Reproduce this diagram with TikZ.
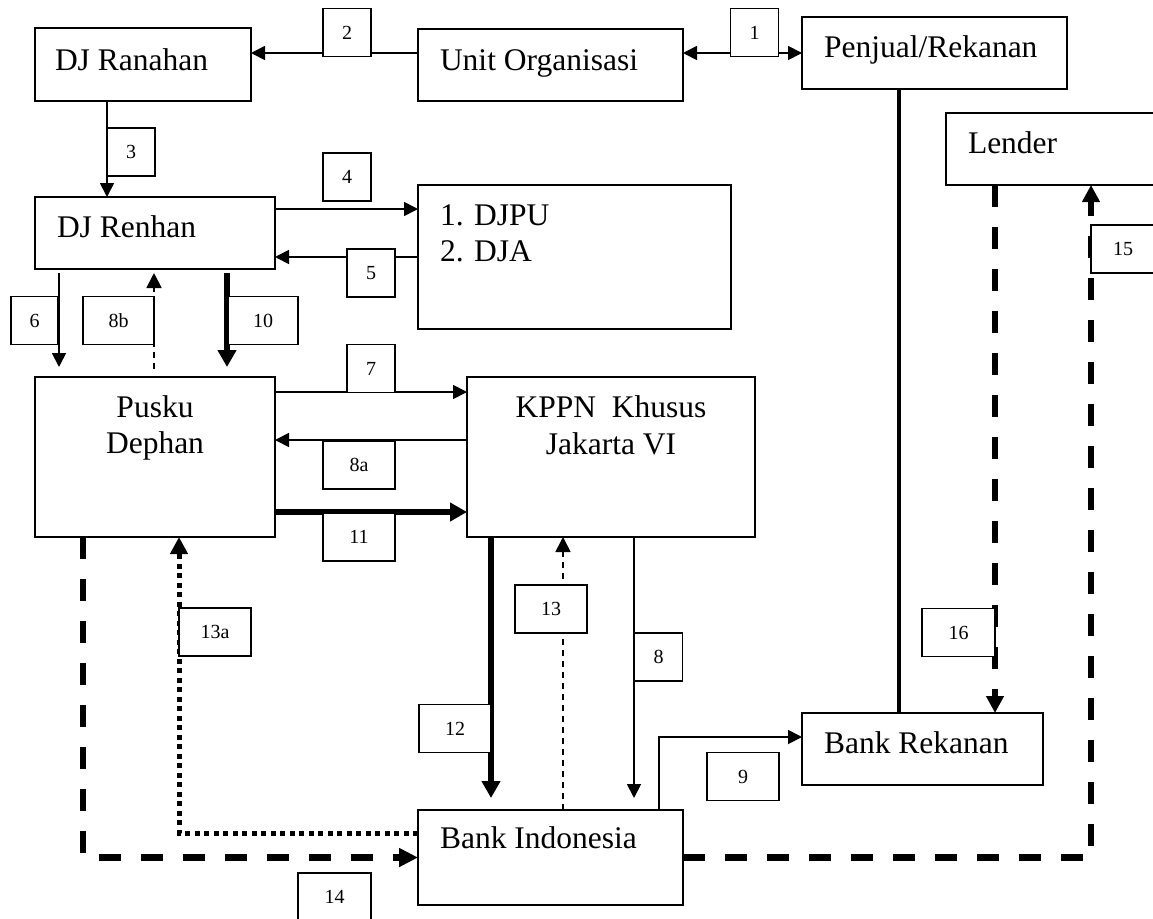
\documentclass[tikz,border=0pt]{standalone}
\usepackage{fontspec}
\setmainfont{Liberation Serif}
\usetikzlibrary{arrows.meta,calc}
\begin{document}
\begin{tikzpicture}[x=1pt,y=-1pt,
  mbox/.style={draw,line width=1.8pt,fill=white,inner sep=0pt,outer sep=0pt},
  txt/.style={inner sep=0pt,outer sep=0pt,font=\fontsize{31.5}{36}\selectfont},
  lbl/.style={draw,line width=1.5pt,fill=white,inner sep=0pt,outer sep=0pt,font=\fontsize{20}{24}\selectfont,minimum height=48pt},
  lbls/.style={lbl,minimum width=48pt},
  lblw/.style={lbl,minimum width=72pt},
  thinl/.style={line width=1.8pt},
  arr/.style={thinl,-{Triangle[length=14pt,width=14pt]}},
  thickarr/.style={line width=5.5pt,-{Triangle[length=17pt,width=18pt]}},
  heavydash/.style={line width=6.5pt,dash pattern=on 22pt off 20pt},
  thindash/.style={line width=1.8pt,dash pattern=on 6pt off 5pt},
  dots/.style={line width=5pt,dash pattern=on 5pt off 4.5pt},
  bigtip/.style={-{Triangle[length=17pt,width=17pt]}}
]
\useasboundingbox (0,0) rectangle (1153,918);
\fill[white] (0,0) rectangle (1153,918);

% main boxes
\node[mbox,minimum width=216pt,minimum height=73pt] (djr) at (143,64.5) {};
\node[txt,anchor=base west] (djrT) at (55,70) {DJ Ranahan};
\node[mbox,minimum width=265pt,minimum height=72pt] (uo) at (550.5,65) {};
\node[txt,anchor=base west] (uoT) at (440,70) {Unit Organisasi};
\node[mbox,minimum width=265pt,minimum height=72pt] (pen) at (934.5,53) {};
\node[txt,anchor=base west] (penT) at (824,57) {Penjual/Rekanan};
\node[mbox,minimum width=219pt,minimum height=72pt] (len) at (1055.5,149) {};
\node[txt,anchor=base west] (lenT) at (968,153) {Lender};
\node[mbox,minimum width=240pt,minimum height=72pt] (djren) at (155,233) {};
\node[txt,anchor=base west] (djrenT) at (57,237) {DJ Renhan};
\node[mbox,minimum width=313pt,minimum height=144pt] (djpu) at (574.5,257) {};
\node[txt,anchor=base west] (djpuT1) at (440,225) {1. DJPU};
\node[txt,anchor=base west] (djpuT2) at (440,261) {2. DJA};
\node[mbox,minimum width=240pt,minimum height=160pt] (pus) at (155,457) {};
\node[txt,anchor=base] (pusT1) at (155,417) {Pusku};
\node[txt,anchor=base] (pusT2) at (155,453) {Dephan};
\node[mbox,minimum width=288pt,minimum height=160pt] (kppn) at (611,457) {};
\node[txt,anchor=base] (kppnT1) at (611,417) {KPPN\ \ Khusus};
\node[txt,anchor=base] (kppnT2) at (611,454) {Jakarta VI};
\node[mbox,minimum width=265pt,minimum height=95pt] (bi) at (550.5,857.5) {};
\node[txt,anchor=base west] (biT) at (440,848) {Bank Indonesia};
\node[mbox,minimum width=241pt,minimum height=72pt] (br) at (922.5,749) {};
\node[txt,anchor=base west] (brT) at (824,753) {Bank Rekanan};

% connectors
\coordinate (a2) at ([yshift=12pt]uo.west);
\draw[arr] (a2) -- (a2 -| djr.east);
\draw[thinl,{Triangle[length=14pt,width=14pt]}-{Triangle[length=14pt,width=14pt]}] ([yshift=12pt]uo.east) -- (pen.west);
\coordinate (a3) at ([xshift=-36pt]djr.south);
\draw[arr] (a3) -- (a3 |- djren.north);
\coordinate (a4) at ([yshift=24pt]djren.east);
\draw[arr] (a4) -- (a4 -| djpu.west);
\draw[arr] (djpu.west) -- (djpu.west -| djren.east);
\coordinate (a6) at ([xshift=-96pt]djren.south);
\draw[arr,shorten <=4pt,shorten >=10pt] (a6) -- (a6 |- pus.north);
\coordinate (a8b) at ([xshift=-1pt]pus.north);
\draw[thindash,-{Triangle[length=15pt,width=15pt]},shorten <=8pt,shorten >=4pt] (a8b) -- (a8b |- djren.south);
\coordinate (a10) at ([xshift=72pt]djren.south);
\draw[thickarr,shorten <=4pt,shorten >=10pt] (a10) -- (a10 |- pus.north);
\coordinate (a7) at ([yshift=65pt]pus.east);
\draw[arr] (a7) -- (a7 -| kppn.west);
\coordinate (a8a) at ([yshift=17pt]kppn.west);
\draw[arr] (a8a) -- (a8a -| pus.east);
\coordinate (a11) at ([yshift=-55pt]pus.east);
\draw[thickarr] (a11) -- (a11 -| kppn.west);
\coordinate (a12) at ([xshift=-120pt]kppn.south);
\draw[thickarr,shorten >=12pt] (a12) -- (a12 |- bi.north);
\coordinate (a13) at ([xshift=12.5pt]bi.north);
\draw[thindash,-{Triangle[length=15pt,width=15pt]}] (a13) -- (a13 |- kppn.south);
\coordinate (a8) at ([xshift=23pt]kppn.south);
\draw[arr,shorten >=12pt] (a8) -- (a8 |- bi.north);
\coordinate (a9) at ([xshift=108.5pt]bi.north);
\coordinate (b9) at ([yshift=12pt]br.west);
\draw[arr] (a9) |- (b9);
\coordinate (apen) at ([xshift=-35.5pt]pen.south);
\draw[line width=4.5pt] (apen) -- (apen |- br.north);
\coordinate (a16) at ([xshift=-60.5pt]len.south);
\draw[heavydash,bigtip] (a16) -- (a16 |- br.north);
\coordinate (a14) at ([xshift=-72pt]pus.south);
\draw[heavydash,-{Triangle[length=19pt,width=18pt]}] (a14) |- (bi.west);
\coordinate (a13a) at ([yshift=24.5pt]bi.west);
\coordinate (b13a) at ([xshift=24pt]pus.south);
\draw[dots,bigtip] (a13a) -| (b13a);
\coordinate (a15) at ([xshift=35.5pt]len.south);
\draw[heavydash,bigtip] (bi.east) -| (a15);

% labels
\node[lbls] (l1) at (754.5,32.5) {1};
\node[lbls] (l2) at (347,32.5) {2};
\node[lbls] (l3) at (131,152) {3};
\node[lbls] (l4) at (347,177) {4};
\node[lbls] (l5) at (371,273) {5};
\node[lbls,minimum width=47pt] (l6) at (34.5,320.5) {6};
\node[lblw,minimum width=71pt] (l8b) at (118.5,320.5) {8b};
\node[lblw,minimum width=70pt] (l10) at (263,320.5) {10};
\node[lbls] (l7) at (371,368.5) {7};
\node[lblw] (l8a) at (359,465) {8a};
\node[lblw] (l11) at (359,537) {11};
\node[lblw] (l12) at (455,728.5) {12};
\node[lblw] (l13) at (551,609) {13};
\node[lbls] (l8) at (658.5,657) {8};
\node[lblw] (l9) at (743,776.5) {9};
\node[lblw] (l13a) at (215,632) {13a};
\node[lblw,minimum width=73pt] (l16) at (958.5,632.5) {16};
\node[lbl,minimum width=64pt] (l15) at (1123,249) {15};
\node[lblw,minimum width=73pt] (l14) at (334.5,897) {14};
\end{tikzpicture}
\end{document}
